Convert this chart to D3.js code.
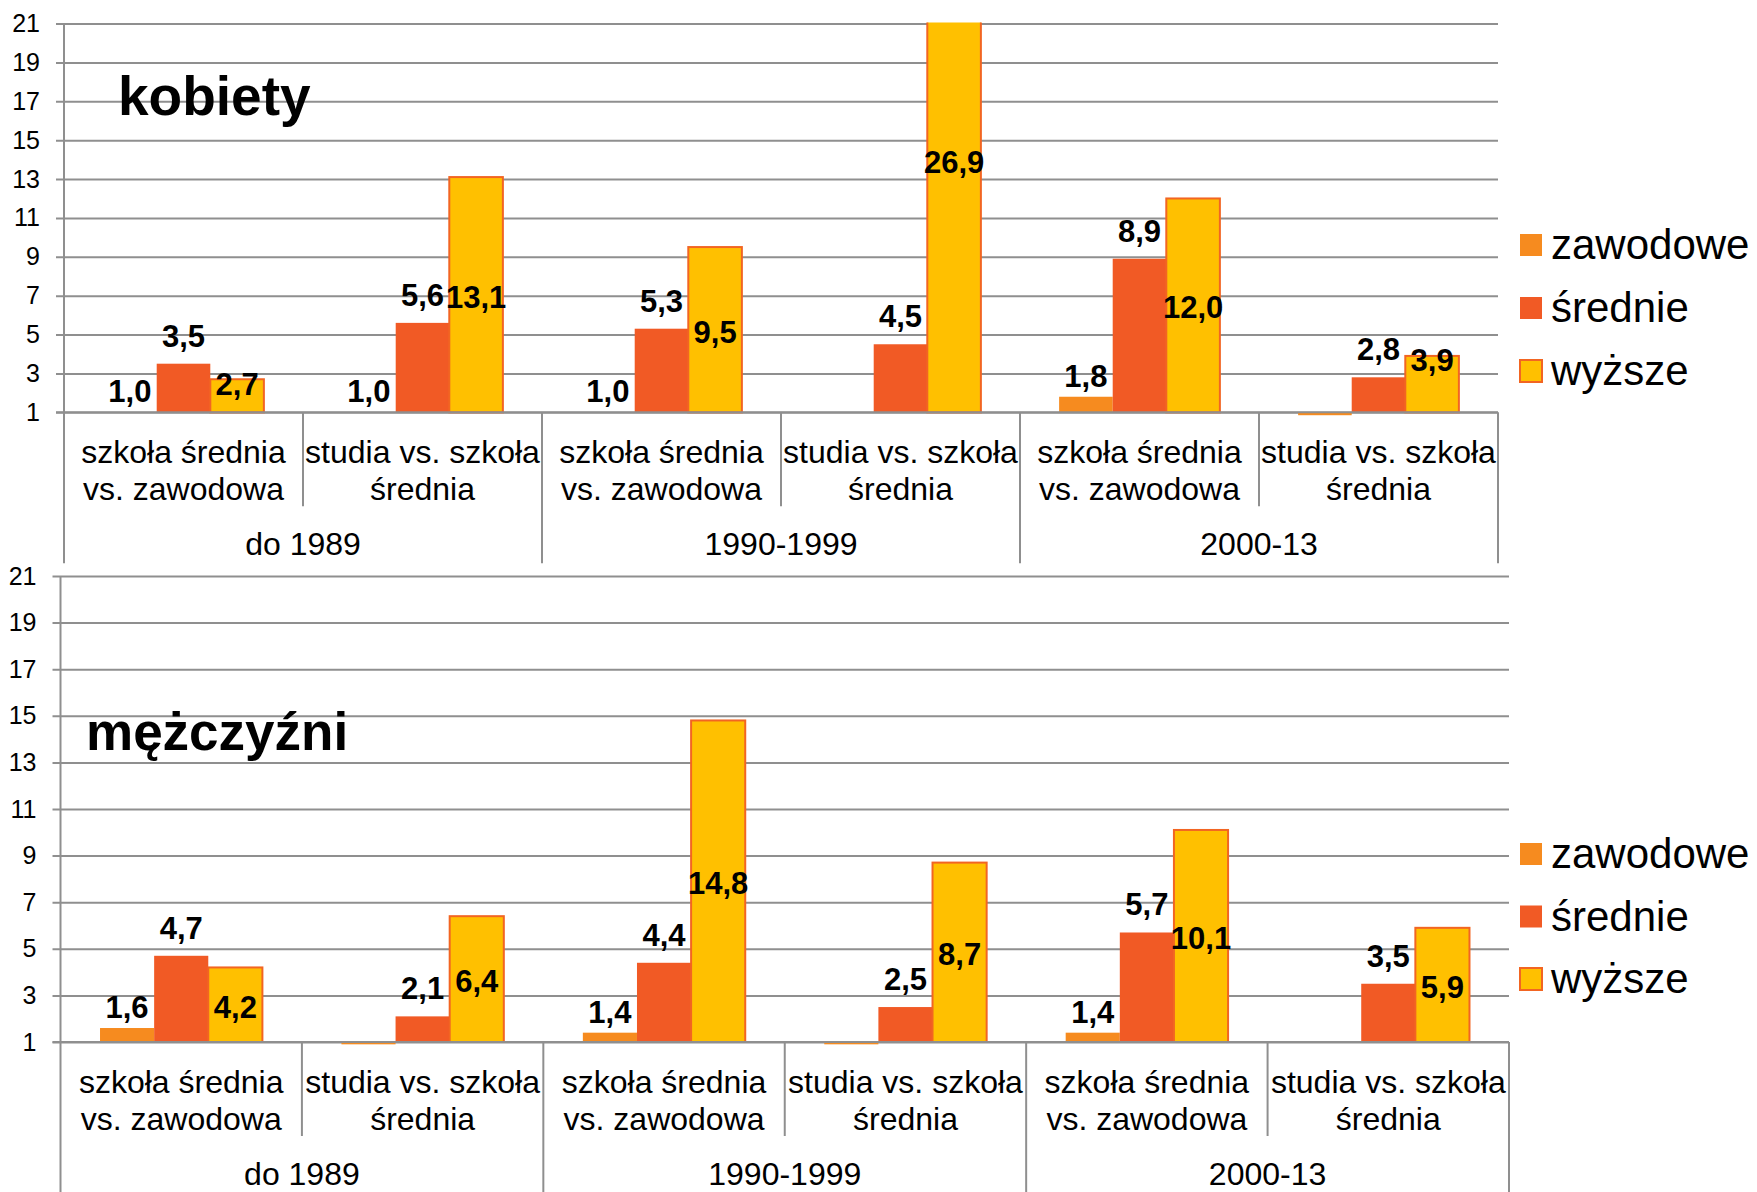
<!DOCTYPE html>
<html>
<head>
<meta charset="utf-8">
<title>kobiety / mężczyźni</title>
<script src="https://cdn.jsdelivr.net/npm/d3@7"></script>
<style>
  html, body { margin: 0; padding: 0; background: #fff; }
  svg { display: block; font-family: "Liberation Sans", Arial, sans-serif; }
</style>
</head>
<body>
<div id="chart"></div>
<script>
// data
const subCategories = [["szkoła średnia", "vs. zawodowa"], ["studia vs. szkoła", "średnia"]];
const periods = ["do 1989", "1990-1999", "2000-13"];
const seriesNames = ["zawodowe", "średnie", "wyższe"];
const yTicks = [1, 3, 5, 7, 9, 11, 13, 15, 17, 19, 21];

const kobietyZawodowe = [1.0, 1.0, 1.0, null, 1.8, 0.85];
const kobietySrednie  = [3.5, 5.6, 5.3, 4.5, 8.9, 2.8];
const kobietyWyzsze   = [2.7, 13.1, 9.5, 26.9, 12.0, 3.9];

const mezczyzniZawodowe = [1.6, 0.9, 1.4, 0.9, 1.4, null];
const mezczyzniSrednie  = [4.7, 2.1, 4.4, 2.5, 5.7, 3.5];
const mezczyzniWyzsze   = [4.2, 6.4, 14.8, 8.7, 10.1, 5.9];

const colors = ["#f68b1f", "#f15a25", "#ffc000"];
const gridColor = "#8f8f8f";
const font = "\"Liberation Sans\", Arial, sans-serif";

const width = 1757, height = 1192;

const svg = d3.select("#chart")
  .append("svg")
  .attr("width", width)
  .attr("height", height)
  .attr("viewBox", [0, 0, width, height]);

function panel(settings) {
  const left = settings.left, right = settings.right;
  const top = settings.top, base = settings.base;
  const values = settings.values;

  const categories = d3.range(periods.length * subCategories.length);

  const x0 = d3.scaleBand()
    .domain(categories)
    .range([left, right])
    .padding(0);

  const x1 = d3.scaleBand()
    .domain(seriesNames)
    .range([0, x0.bandwidth()])
    .paddingInner(0)
    .paddingOuter(0.73);

  const y = d3.scaleLinear()
    .domain([1, 21])
    .range([base, top]);

  const g = svg.append("g");

  // grid + y axis
  g.append("g")
    .attr("transform", `translate(${left},0)`)
    .call(d3.axisLeft(y).tickValues(yTicks).tickSize(0).tickPadding(24))
    .call(g => g.select(".domain").remove())
    .call(g => g.selectAll(".tick line")
      .attr("x1", -8)
      .attr("x2", right - left)
      .attr("stroke", gridColor)
      .attr("stroke-width", 2))
    .call(g => g.selectAll(".tick text")
      .attr("fill", "#000")
      .style("font", `25px ${font}`));

  g.append("line")
    .attr("x1", left).attr("x2", left)
    .attr("y1", top).attr("y2", base)
    .attr("stroke", gridColor)
    .attr("stroke-width", 2);

  // bars
  const clipId = "clip-" + settings.name;
  svg.append("clipPath")
    .attr("id", clipId)
    .append("rect")
    .attr("x", left).attr("y", top - 1)
    .attr("width", right - left).attr("height", base - top + 20);

  const rows = categories.map(i => ({
    i,
    bars: seriesNames.map((s, k) => ({ s, k, v: values[k][i] }))
      .filter(d => d.v != null)
  }));

  const cat = g.append("g")
    .attr("clip-path", `url(#${clipId})`)
    .selectAll("g")
    .data(rows)
    .join("g")
    .attr("transform", d => `translate(${x0(d.i)},0)`);

  cat.selectAll("rect")
    .data(d => d.bars)
    .join("rect")
    .attr("x", d => x1(d.s))
    .attr("width", x1.bandwidth())
    .attr("y", d => Math.min(y(d.v), y(1)))
    .attr("height", d => Math.abs(y(1) - y(d.v)))
    .attr("fill", d => colors[d.k])
    .attr("stroke", d => d.k === 2 ? "#f26522" : "none")
    .attr("stroke-width", 2);

  // baseline on top of bars
  g.append("line")
    .attr("x1", left - 8).attr("x2", right)
    .attr("y1", base).attr("y2", base)
    .attr("stroke", gridColor)
    .attr("stroke-width", 2);

  // data labels
  const labelY = d => {
    const yt = y(d.v);
    if (d.k === 0) return yt - 21;
    if (d.k === 1) return yt - 28;
    const h = base - yt;
    return h < 67 ? yt + 4.5 : (yt + base) / 2 + 2;
  };

  g.append("g")
    .selectAll("text")
    .data(rows.flatMap(r => r.bars.filter(d => d.v >= 1).map(d => ({ ...d, i: r.i }))))
    .join("text")
    .attr("x", d => x0(d.i) + x1(d.s) + x1.bandwidth() / 2)
    .attr("y", d => labelY(d))
    .attr("dy", "0.35em")
    .attr("text-anchor", "middle")
    .style("font", `bold 31px ${font}`)
    .attr("fill", "#000")
    .text(d => d3.format(".1f")(d.v).replace(".", ","));

  // category axis (two levels)
  const bounds = d3.range(categories.length + 1);
  const xb = i => i < categories.length ? x0(i) : right;

  g.append("g")
    .selectAll("line")
    .data(bounds)
    .join("line")
    .attr("x1", xb).attr("x2", xb)
    .attr("y1", base)
    .attr("y2", i => i % subCategories.length === 0 ? base + settings.groupTick : base + 94)
    .attr("stroke", gridColor)
    .attr("stroke-width", 2);

  g.append("g")
    .selectAll("text")
    .data(categories)
    .join("text")
    .attr("text-anchor", "middle")
    .attr("x", i => x0(i) + x0.bandwidth() / 2)
    .attr("y", base + 50.5)
    .style("font", `32px ${font}`)
    .attr("fill", "#000")
    .selectAll("tspan")
    .data(i => subCategories[i % subCategories.length])
    .join("tspan")
    .attr("x", function () { return this.parentNode.getAttribute("x"); })
    .attr("dy", (d, j) => j === 0 ? 0 : 37)
    .text(d => d);

  g.append("g")
    .selectAll("text")
    .data(periods)
    .join("text")
    .attr("text-anchor", "middle")
    .attr("x", (d, j) => (x0(j * 2) + xb(j * 2 + 2)) / 2)
    .attr("y", base + 143)
    .style("font", `32px ${font}`)
    .attr("fill", "#000")
    .text(d => d);

  // legend
  const legend = g.append("g")
    .selectAll("g")
    .data(seriesNames)
    .join("g")
    .attr("transform", (d, k) => `translate(1520,${settings.legendTop + k * settings.legendStep})`);

  legend.append("rect")
    .attr("width", 22).attr("height", 22)
    .attr("fill", (d, k) => colors[k])
    .attr("stroke", (d, k) => k === 2 ? "#f26522" : "none")
    .attr("stroke-width", 2);

  legend.append("text")
    .attr("x", 31)
    .attr("y", 25)
    .style("font", `42px ${font}`)
    .attr("fill", "#000")
    .text(d => d);

  // panel title
  g.append("text")
    .attr("x", settings.titleX)
    .attr("y", settings.titleY)
    .style("font", `bold ${settings.titleSize}px ${font}`)
    .attr("fill", "#000")
    .text(settings.title);
}

panel({
  name: "k", title: "kobiety", titleX: 118, titleY: 115, titleSize: 55,
  left: 64, right: 1498, top: 23.5, base: 412.3, groupTick: 151,
  legendTop: 234, legendStep: 63,
  values: [kobietyZawodowe, kobietySrednie, kobietyWyzsze]
});

panel({
  name: "m", title: "mężczyźni", titleX: 86, titleY: 750, titleSize: 53,
  left: 60.5, right: 1509, top: 576, base: 1042, groupTick: 160,
  legendTop: 843, legendStep: 62.5,
  values: [mezczyzniZawodowe, mezczyzniSrednie, mezczyzniWyzsze]
});
</script>
</body>
</html>
